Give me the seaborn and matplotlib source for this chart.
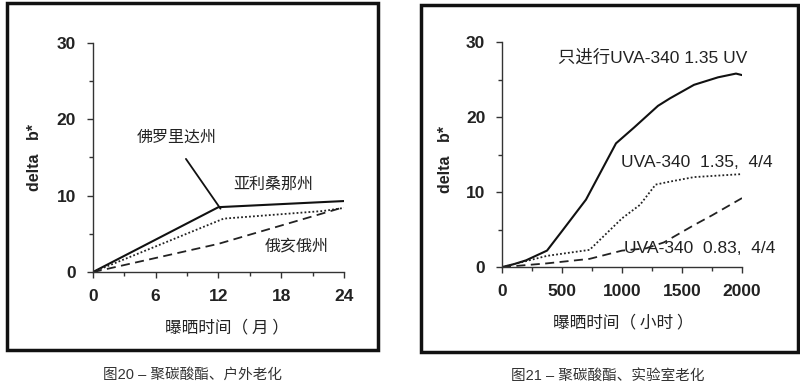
import matplotlib.pyplot as plt
import matplotlib.patches as patches
from matplotlib.ticker import MultipleLocator
import pandas as pd
import seaborn as sns

# Fig 20 - outdoor weathering (months)
months = [0, 12, 24]
florida = [0, 8.5, 9.3]
months_az = [0, 12.5, 22, 24]
arizona = [0, 7.0, 8.0, 8.4]
ohio = [0, 3.7, 8.5]

# Fig 21 - lab weathering (hours)
hrs_uv = [0, 100, 200, 375, 500, 700, 800, 950, 1100, 1300, 1400, 1600, 1800, 1950, 2000]
uv_only = [0, 0.4, 0.9, 2.2, 4.8, 9.0, 12.0, 16.5, 18.6, 21.5, 22.5, 24.3, 25.3, 25.8, 25.6]
hrs_135 = [0, 100, 375, 730, 1000, 1150, 1280, 1400, 1600, 2000]
uva_135 = [0, 0.4, 1.5, 2.3, 6.5, 8.3, 11.0, 11.4, 12.0, 12.4]
hrs_083 = [0, 375, 730, 1000, 1200, 1350, 1600, 1750, 2000]
uva_083 = [0, 0.5, 1.1, 2.2, 2.5, 3.3, 5.6, 6.9, 9.2]

sns.set_style("ticks")
plt.rcParams['font.family'] = ['Liberation Sans', 'Noto Sans CJK SC', 'DejaVu Sans']
cjk = ['Noto Sans CJK SC', 'Liberation Sans']
txt = '#222222'

fig = plt.figure(figsize=(8, 3.86), dpi=100)
ax1 = fig.add_axes([0.116, 0.295, 0.314, 0.594])
ax2 = fig.add_axes([0.6275, 0.308, 0.30, 0.583])

# frames around each panel
for x0, y0, w, h in [(0.009, 0.093, 0.464, 0.899), (0.526, 0.088, 0.471, 0.899)]:
    fig.add_artist(patches.Rectangle((x0, y0), w, h, transform=fig.transFigure,
                                     fill=False, lw=2.5, ec='#111111'))

d1 = pd.DataFrame({'x': months, 'y': florida})
d2 = pd.DataFrame({'x': months_az, 'y': arizona})
d3 = pd.DataFrame({'x': months, 'y': ohio})
sns.lineplot(data=d1, x='x', y='y', ax=ax1, color='#111111', lw=1.5)
sns.lineplot(data=d2, x='x', y='y', ax=ax1, color='#222222', lw=1.3, ls=(0, (1, 1.2)))
sns.lineplot(data=d3, x='x', y='y', ax=ax1, color='#222222', lw=1.3, ls=(0, (5, 3)))

e1 = pd.DataFrame({'x': hrs_uv, 'y': uv_only})
e2 = pd.DataFrame({'x': hrs_135, 'y': uva_135})
e3 = pd.DataFrame({'x': hrs_083, 'y': uva_083})
sns.lineplot(data=e1, x='x', y='y', ax=ax2, color='#111111', lw=1.5)
sns.lineplot(data=e2, x='x', y='y', ax=ax2, color='#222222', lw=1.3, ls=(0, (1, 1.2)))
sns.lineplot(data=e3, x='x', y='y', ax=ax2, color='#222222', lw=1.3, ls=(0, (5, 3)))

for ax, xmax, xmaj in [(ax1, 24, 6), (ax2, 2000, 500)]:
    ax.set_xlim(0, xmax)
    ax.set_ylim(0, 30)
    ax.xaxis.set_major_locator(MultipleLocator(xmaj))
    ax.xaxis.set_minor_locator(MultipleLocator(xmaj / 2))
    ax.yaxis.set_major_locator(MultipleLocator(10))
    ax.yaxis.set_minor_locator(MultipleLocator(5))
    ax.tick_params(which='major', length=4, width=1, color='#333333',
                   labelsize=12.5, labelcolor=txt, pad=8)
    ax.tick_params(which='minor', length=3, width=1, color='#333333')
    for lab in ax.get_xticklabels() + ax.get_yticklabels():
        lab.set_fontweight('bold')
    sns.despine(ax=ax)
    for s in ['left', 'bottom']:
        ax.spines[s].set_color('#333333')
        ax.spines[s].set_linewidth(1)
    ax.set_ylabel('delta   b*', fontsize=11.5, fontweight='bold', color=txt)
    ax.set_xlabel('')

ax1.yaxis.set_label_coords(-0.203, 0.5)
ax2.yaxis.set_label_coords(-0.204, 0.48)
ax1.text(0.534, -0.245, '曝晒时间（ 月 ）', transform=ax1.transAxes, ha='center',
         va='center', fontsize=12, family=cjk, color=txt)
ax2.text(0.504, -0.249, '曝晒时间（ 小时 ）', transform=ax2.transAxes, ha='center',
         va='center', fontsize=12, family=cjk, color=txt)

# series labels
ax1.annotate('佛罗里达州', xy=(12.2, 8.3), xytext=(8.0, 17.7), ha='center', va='center',
             fontsize=11.5, family=cjk, color=txt,
             arrowprops=dict(arrowstyle='-', color='#111111', lw=1.3,
                             relpos=(0.5, 0), shrinkA=9, shrinkB=0))
ax1.text(17.2, 11.5, '亚利桑那州', ha='center', va='center', fontsize=11.5, family=cjk, color=txt)
ax1.text(19.5, 3.4, '俄亥俄州', ha='center', va='center', fontsize=11.5, family=cjk, color=txt)

ax2.text(1258, 28.0, '只进行UVA-340 1.35 UV', ha='center', va='center', fontsize=12.5, color=txt)
ax2.text(1625, 14.0, 'UVA-340  1.35,  4/4', ha='center', va='center', fontsize=12.5, color=txt)
ax2.text(1650, 2.5, 'UVA-340  0.83,  4/4', ha='center', va='center', fontsize=12.5, color=txt)

fig.text(0.241, 0.028, '图20 – 聚碳酸酯、户外老化', ha='center', va='center',
         fontsize=10.5, color='#333333')
fig.text(0.76, 0.026, '图21 – 聚碳酸酯、实验室老化', ha='center', va='center',
         fontsize=10.5, color='#333333')

fig.savefig('out.png', dpi=100)
